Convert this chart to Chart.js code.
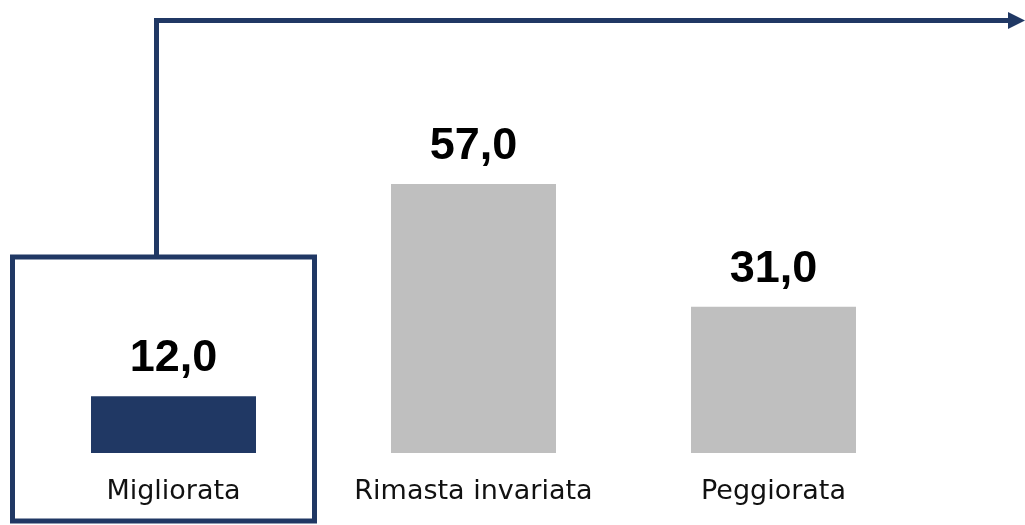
<!DOCTYPE html>
<html>
<head>
<meta charset="utf-8">
<script src="https://cdn.jsdelivr.net/npm/chart.js@4"></script>
<style>
  html, body { margin: 0; padding: 0; background: #fff; }
  #chart { display: block; }
</style>
</head>
<body>
<canvas id="chart" width="1025" height="525"></canvas>
<script>
const categories = ['Migliorata', 'Rimasta invariata', 'Peggiorata'];
const values = [12.0, 57.0, 31.0];
const barColors = ['#203864', '#bfbfbf', '#bfbfbf'];

const navy = '#203864';

// valori sopra le barre, formato italiano
const valueLabels = {
  id: 'valueLabels',
  afterDatasetsDraw(chart) {
    const ctx = chart.ctx;
    const meta = chart.getDatasetMeta(0);
    ctx.save();
    ctx.font = 'bold 45px "Liberation Sans"';
    ctx.fillStyle = '#000';
    ctx.textAlign = 'center';
    ctx.textBaseline = 'alphabetic';
    meta.data.forEach((bar, i) => {
      ctx.fillText(values[i].toFixed(1).replace('.', ','), bar.x, bar.y - 25);
    });
    ctx.restore();
  }
};

// riquadro attorno alla prima categoria e freccia
const highlight = {
  id: 'highlight',
  afterDraw(chart) {
    const ctx = chart.ctx;
    const x = chart.scales.x;
    const cx = x.getPixelForValue(0);
    const left = cx - 161, right = cx + 141;
    const top = 257, bottom = 521;
    const lineX = cx - 17;
    const lineY = 20.5;
    ctx.save();
    ctx.strokeStyle = navy;
    ctx.fillStyle = navy;
    ctx.lineWidth = 5;
    ctx.strokeRect(left, top, right - left, bottom - top);
    ctx.beginPath();
    ctx.moveTo(lineX, top);
    ctx.lineTo(lineX, lineY);
    ctx.lineTo(1010, lineY);
    ctx.stroke();
    ctx.beginPath();
    ctx.moveTo(1008, 12);
    ctx.lineTo(1025, lineY);
    ctx.lineTo(1008, 29);
    ctx.closePath();
    ctx.fill();
    ctx.restore();
  }
};

new Chart(document.getElementById('chart').getContext('2d'), {
  type: 'bar',
  data: {
    labels: categories,
    datasets: [{
      data: values,
      backgroundColor: barColors,
      borderWidth: 0,
      barPercentage: 0.55,
      categoryPercentage: 1.0
    }]
  },
  options: {
    responsive: false,
    animation: false,
    events: [],
    layout: { padding: { top: 75.4, left: 23.5, right: 101.5, bottom: 0 } },
    plugins: {
      legend: { display: false },
      tooltip: { enabled: false }
    },
    scales: {
      y: { display: false, min: 0, max: 80 },
      x: {
        afterFit(scale) { scale.height = 72; },
        grid: { display: false, drawTicks: false },
        border: { display: false },
        ticks: {
          padding: 23,
          color: '#111',
          font: { family: 'DejaVu Sans', size: 27 }
        }
      }
    }
  },
  plugins: [valueLabels, highlight]
});
</script>
</body>
</html>
